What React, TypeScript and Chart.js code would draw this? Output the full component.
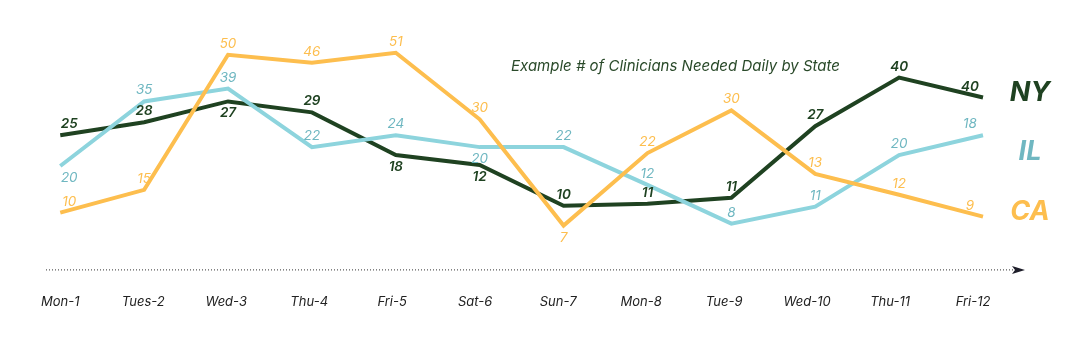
import React, { useEffect, useRef } from 'react';
import { Chart, registerables } from 'chart.js';

Chart.register(...registerables);

// ---- data ----
const DAYS = ['Mon-1', 'Tues-2', 'Wed-3', 'Thu-4', 'Fri-5', 'Sat-6', 'Sun-7', 'Mon-8', 'Tue-9', 'Wed-10', 'Thu-11', 'Fri-12'];
// line heights as drawn
const NY_LINE = [29.75, 33, 38.25, 35.5, 24.75, 22.25, 12, 12.5, 14, 32, 44.25, 39.25];
const IL_LINE = [22, 38.25, 41.5, 26.75, 29.75, 26.75, 26.75, 17.25, 7.5, 11.75, 24.75, 29.75];
const CA_LINE = [10.25, 16, 50, 48, 50.5, 33.75, 7, 25.25, 36, 20, 14.75, 9.25];
// value labels as printed
const NY_LABELS = [25, 28, 27, 29, 18, 12, 10, 11, 11, 27, 40, 40];
const IL_LABELS = [20, 35, 39, 22, 24, 20, 22, 12, 8, 11, 20, 18];
const CA_LABELS = [10, 15, 50, 46, 51, 30, 7, 22, 30, 13, 12, 9];
const SERIES_NAMES = ['NY', 'IL', 'CA'];
const TITLE = 'Example # of Clinicians Needed Daily by State';

// ---- style ----
const FONT = 'Inter, "DejaVu Sans", sans-serif';
const NY_COLOR = '#1f4221';
const IL_COLOR = '#8dd4dd';
const IL_TEXT = '#6fb7c1';
const CA_COLOR = '#fdbe4e';
const NY_SIDE = 'aababbaaaaaa';
const IL_SIDE = 'baaaabaaaaaa';
const CA_SIDE = 'aaaaaabaaaaa';

const labelPlugin = {
  id: 'valueLabels',
  afterDatasetsDraw(chart: any) {
    const ctx = chart.ctx;
    chart.data.datasets.forEach((ds: any, di: number) => {
      const meta = chart.getDatasetMeta(di);
      const n = meta.data.length;
      ctx.save();
      ctx.font = `italic ${ds._labelWeight} 13.5px ${FONT}`;
      ctx.fillStyle = ds._labelColor;
      ctx.textAlign = 'center';
      ctx.textBaseline = 'middle';
      meta.data.forEach((pt: any, i: number) => {
        const side = ds._side[i];
        let dx = 0;
        if (i === 0) dx = 9;
        if (i === n - 1) dx = -13;
        const dy = side === 'a' ? -11 : 12;
        ctx.fillText(String(ds._labels[i]), pt.x + dx, pt.y + dy);
      });
      ctx.restore();
    });
  },
  afterDraw(chart: any) {
    const ctx = chart.ctx;
    const area = chart.chartArea;
    ctx.save();
    // title
    ctx.font = `italic 400 15px ${FONT}`;
    ctx.fillStyle = '#2a4a2a';
    ctx.textAlign = 'left';
    ctx.textBaseline = 'middle';
    ctx.fillText(TITLE, 511, 66);
    // series names
    const cols = [NY_COLOR, IL_TEXT, CA_COLOR];
    const ys = [93, 152, 212];
    ctx.font = `italic 700 27px ${FONT}`;
    ctx.textAlign = 'center';
    SERIES_NAMES.forEach((s, i) => {
      ctx.fillStyle = cols[i];
      ctx.fillText(s, 1030, ys[i]);
    });
    // dotted arrow
    const y = area.bottom + 16;
    ctx.fillStyle = '#333';
    for (let x = 46; x < 1013; x += 3) {
      ctx.fillRect(x, y, 1, 1);
    }
    ctx.fillStyle = '#1e1e2a';
    ctx.beginPath();
    ctx.moveTo(1012, y - 3.5);
    ctx.lineTo(1025, y + 0.5);
    ctx.lineTo(1012, y + 4.5);
    ctx.lineTo(1015, y + 0.5);
    ctx.closePath();
    ctx.fill();
    ctx.restore();
  },
};

export default function App() {
  const ref = useRef<HTMLCanvasElement>(null);
  useEffect(() => {
    document.body.style.margin = '0';
    const canvas = ref.current!;
    const mk = (data: number[], color: string, labels: number[], side: string, labelColor: string, weight: number) => ({
      data,
      borderColor: color,
      backgroundColor: color,
      borderWidth: 4,
      pointRadius: 0,
      tension: 0,
      fill: false,
      xAxisID: 'x',
      yAxisID: 'y',
      _labels: labels,
      _side: side,
      _labelColor: labelColor,
      _labelWeight: weight,
    });
    const chart = new Chart(canvas, {
      type: 'line',
      data: {
        labels: DAYS,
        datasets: [
          { label: 'CA', ...mk(CA_LINE, CA_COLOR, CA_LABELS, CA_SIDE, CA_COLOR, 400) },
          { label: 'IL', ...mk(IL_LINE, IL_COLOR, IL_LABELS, IL_SIDE, IL_TEXT, 400) },
          { label: 'NY', ...mk(NY_LINE, NY_COLOR, NY_LABELS, NY_SIDE, NY_COLOR, 600) },
        ] as any,
      },
      options: {
        responsive: false,
        animation: false,
        layout: { padding: { left: 57, right: 96, top: 15, bottom: 0 } },
        plugins: { legend: { display: false }, tooltip: { enabled: false }, title: { display: false } },
        scales: {
          x: { type: 'category', display: false, offset: false },
          x2: {
            type: 'linear',
            position: 'bottom',
            min: 0,
            max: 11.12,
            grid: { display: false, drawTicks: false },
            border: { display: false },
            ticks: {
              stepSize: 1,
              includeBounds: false,
              autoSkip: false,
              maxRotation: 0,
              minRotation: 0,
              padding: 41,
              color: '#222',
              font: { family: FONT, size: 13, style: 'italic' },
              callback: (v: any) => (DAYS[v] !== undefined ? DAYS[v] : ''),
            },
          },
          y: { display: false, min: 0, max: 60 },
        },
      },
      plugins: [labelPlugin],
    } as any);
    return () => chart.destroy();
  }, []);
  return <canvas ref={ref} width={1079} height={351} style={{ display: 'block' }} />;
}
